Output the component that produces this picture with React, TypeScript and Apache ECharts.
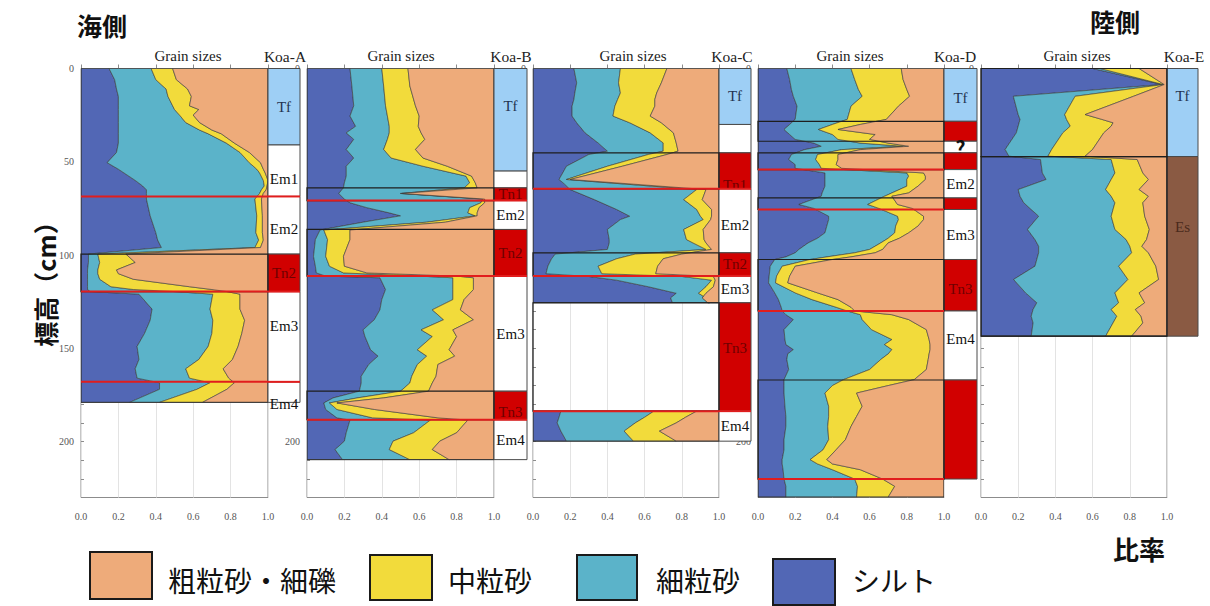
import React, { useEffect, useRef } from "react";
import * as echarts from "echarts";

// ---------- categories ----------
const layerNames = ["シルト", "細粒砂", "中粒砂", "粗粒砂・細礫"];
const layerColors = ["#5267b5", "#5bb3c9", "#f2db3b", "#eeab7a"];
const xTicks = [0, 0.2, 0.4, 0.6, 0.8, 1.0];
// depth tick labels that are left uncovered in each panel
const depthTicksShown = [[0, 50, 100, 150, 200], [0, 200], [0], [0, 200], [0]];

// cumulative grain-size edges (silt | silt+fine | silt+fine+medium), coarse fills to 1.0
// ---------- Koa-A ----------
const A_depth = [0, 6, 11, 15, 20, 22, 25, 29, 33, 35, 40, 45, 50.5, 54, 56, 60, 63, 65, 67, 70, 79, 88, 92, 96, 99.5, 104, 108, 110, 113, 117, 118.5, 119.6, 121, 129, 135, 142, 149, 156, 161, 166, 168.5, 172, 179];
const A_silt = [0.15, 0.18, 0.19, 0.2, 0.2, 0.2, 0.2, 0.2, 0.2, 0.2, 0.2, 0.19, 0.14, 0.2, 0.23, 0.29, 0.33, 0.35, 0.35, 0.35, 0.37, 0.4, 0.41, 0.43, 0.04, 0.04, 0.035, 0.035, 0.035, 0.035, 0.035, 0.05, 0.31, 0.38, 0.37, 0.34, 0.3, 0.31, 0.29, 0.3, 0.42, 0.42, 0.26];
const A_fine = [0.375, 0.4, 0.455, 0.465, 0.49, 0.5, 0.527, 0.56, 0.634, 0.68, 0.777, 0.85, 0.9, 0.94, 0.955, 0.975, 0.98, 0.965, 0.955, 0.93, 0.94, 0.935, 0.95, 0.93, 0.09, 0.1, 0.09, 0.09, 0.1, 0.16, 0.28, 0.5, 0.705, 0.69, 0.705, 0.7, 0.68, 0.63, 0.56, 0.58, 0.69, 0.62, 0.42];
const A_medium = [0.49, 0.51, 0.57, 0.59, 0.58, 0.63, 0.6, 0.634, 0.7, 0.75, 0.82, 0.9, 0.96, 0.975, 0.985, 1.0, 0.995, 0.99, 0.975, 0.965, 0.97, 0.97, 0.975, 0.96, 0.24, 0.29, 0.19, 0.2, 0.28, 0.58, 0.7, 0.78, 0.85, 0.85, 0.875, 0.86, 0.84, 0.81, 0.76, 0.79, 0.82, 0.78, 0.65];
const A_units = [[0, 41, "Tf", "tf"], [41, 68.6, "Em1", "em", 59], [68.6, 99.5, "Em2", "em", 86], [99.5, 119.6, "Tn2", "tn"], [119.6, 168, "Em3", "em", 138], [168, 179, "Em4", "em", 180]];
const A_redLines = [68.6, 119.6, 168];
const A_boxes = [[99.5, 119.6]];

// ---------- Koa-B ----------
const B_depth = [0, 9.4, 20, 25.5, 31, 34.5, 38, 43.4, 48, 52.4, 57.7, 61.3, 64, 67, 70, 72, 74.6, 77.4, 79, 82.4, 86.6, 91.7, 100.7, 106, 109.6, 111.3, 112.2, 118.5, 123.9, 129.4, 134.7, 140.1, 143.7, 150.8, 154.2, 158.7, 165, 168.6, 173, 176.6, 179.3, 182.8, 187.3, 188.5, 195.3, 199.8, 204.3, 209.7];
const B_silt = [0.23, 0.24, 0.25, 0.23, 0.26, 0.21, 0.25, 0.21, 0.25, 0.21, 0.21, 0.2, 0.195, 0.17, 0.2, 0.23, 0.32, 0.44, 0.5, 0.3, 0.07, 0.045, 0.035, 0.045, 0.05, 0.1, 0.39, 0.42, 0.4, 0.39, 0.36, 0.3, 0.31, 0.34, 0.38, 0.33, 0.29, 0.29, 0.28, 0.14, 0.09, 0.1, 0.16, 0.23, 0.21, 0.2, 0.15, 0.19];
const B_fine = [0.4, 0.41, 0.42, 0.43, 0.44, 0.44, 0.43, 0.41, 0.45, 0.62, 0.85, 0.87, 0.84, 0.5, 0.94, 0.93, 0.87, 0.86, 0.9, 0.64, 0.09, 0.11, 0.1, 0.12, 0.195, 0.6, 0.78, 0.78, 0.78, 0.67, 0.73, 0.61, 0.67, 0.59, 0.64, 0.59, 0.56, 0.55, 0.5, 0.27, 0.12, 0.16, 0.35, 0.66, 0.57, 0.46, 0.44, 0.55];
const B_medium = [0.54, 0.55, 0.58, 0.6, 0.595, 0.61, 0.63, 0.58, 0.62, 0.75, 0.88, 0.9, 0.91, 0.51, 0.95, 0.95, 0.92, 0.91, 0.91, 0.74, 0.23, 0.23, 0.195, 0.2, 0.32, 0.8, 0.89, 0.89, 0.84, 0.82, 0.89, 0.78, 0.8, 0.76, 0.79, 0.7, 0.69, 0.67, 0.65, 0.41, 0.16, 0.36, 0.7, 0.86, 0.8, 0.71, 0.67, 0.76];
const B_units = [[0, 55, "Tf", "tf", 20], [55, 64, "", "em"], [64, 70.8, "Tn1", "tn"], [70.8, 86.3, "Em2", "em"], [86.3, 111.3, "Tn2", "tn"], [111.3, 173, "Em3", "em"], [173, 188.3, "Tn3", "tn", 184], [188.3, 209.7, "Em4", "em"]];
const B_redLines = [70.8, 111.3, 188.3];
const B_boxes = [[64, 70.8], [86.3, 111.3], [173, 188.3]];

// ---------- Koa-C (two measured intervals) ----------
const C1_depth = [0, 7.7, 13.1, 16.6, 20.2, 25.5, 29.1, 34.5, 39.9, 44.3, 46.1, 52.4, 59.5, 62, 64.9, 70.3, 75.6, 79.2, 81, 86.3, 91.7, 93.5, 97, 99.5, 102, 106, 110, 111.5, 113.5, 117, 120.5, 123, 125.6];
const C1_silt = [0.22, 0.235, 0.225, 0.22, 0.21, 0.21, 0.235, 0.28, 0.35, 0.4, 0.3, 0.18, 0.14, 0.17, 0.2, 0.33, 0.45, 0.52, 0.47, 0.4, 0.41, 0.41, 0.4, 0.12, 0.1, 0.08, 0.07, 0.3, 0.45, 0.62, 0.77, 0.74, 0.75];
const C1_fine = [0.47, 0.46, 0.47, 0.455, 0.44, 0.43, 0.52, 0.63, 0.7, 0.7, 0.62, 0.4, 0.18, 0.5, 0.88, 0.81, 0.88, 0.9, 0.915, 0.81, 0.825, 0.86, 0.93, 0.55, 0.45, 0.35, 0.37, 0.8, 0.96, 0.93, 0.89, 0.93, 0.95];
const C1_medium = [0.72, 0.69, 0.665, 0.655, 0.655, 0.63, 0.69, 0.755, 0.77, 0.78, 0.72, 0.48, 0.2, 0.54, 0.93, 0.91, 0.96, 0.96, 0.955, 0.915, 0.92, 0.93, 0.96, 0.8, 0.7, 0.67, 0.66, 0.97, 0.98, 0.97, 0.93, 0.91, 0.94];
const C2_depth = [183.7, 187, 190, 194.4, 199.8];
const C2_silt = [0.15, 0.14, 0.13, 0.15, 0.18];
const C2_fine = [0.65, 0.6, 0.55, 0.49, 0.54];
const C2_medium = [0.88, 0.82, 0.77, 0.68, 0.77];
const C_units = [[0, 30, "Tf", "tf"], [30, 45.2, "", "em"], [45.2, 64.5, "Tn1", "tn", 62.5], [64.5, 98.8, "Em2", "em", 84], [98.8, 111.2, "Tn2", "tn"], [111.2, 125.6, "Em3", "em"], [125.6, 183.7, "Tn3", "tn", 150], [183.7, 199.8, "Em4", "em"]];
const C_redLines = [64.5, 111.2, 183.7];
const C_boxes = [[45.2, 64.5], [98.8, 111.2], [125.6, 183.7]];

// ---------- Koa-D ----------
const D_depth = [0, 5.9, 11.3, 14.9, 20.2, 27.3, 30, 32.7, 35.4, 38, 40, 41.7, 43.5, 46.1, 48.8, 51.5, 53.5, 56, 57.7, 59.5, 63.1, 66.7, 68.5, 72.9, 75, 79.2, 81, 84.5, 88.1, 91, 93.5, 97, 98.8, 101, 102.4, 106, 111.3, 114.9, 120.3, 123.9, 128, 130, 132, 134.6, 140, 145.3, 148, 150.7, 153, 156, 161.4, 166.8, 170, 174, 181.1, 186.5, 191.9, 199, 204.4, 209.7, 212, 215.1, 220.1, 224, 229.8];
const D_silt = [0.155, 0.17, 0.18, 0.19, 0.21, 0.2, 0.17, 0.14, 0.17, 0.2, 0.3, 0.34, 0.25, 0.18, 0.165, 0.2, 0.2, 0.36, 0.36, 0.36, 0.36, 0.345, 0.34, 0.22, 0.3, 0.38, 0.38, 0.37, 0.36, 0.32, 0.27, 0.22, 0.2, 0.15, 0.09, 0.066, 0.06, 0.057, 0.09, 0.11, 0.125, 0.13, 0.15, 0.19, 0.14, 0.145, 0.15, 0.19, 0.16, 0.155, 0.165, 0.14, 0.14, 0.14, 0.145, 0.15, 0.15, 0.14, 0.14, 0.13, 0.13, 0.135, 0.14, 0.15, 0.15];
const D_fine = [0.5, 0.52, 0.54, 0.56, 0.5, 0.48, 0.4, 0.325, 0.4, 0.43, 0.55, 0.78, 0.45, 0.32, 0.31, 0.33, 0.34, 0.8, 0.81, 0.8, 0.8, 0.72, 0.68, 0.59, 0.65, 0.75, 0.755, 0.74, 0.735, 0.7, 0.66, 0.6, 0.52, 0.37, 0.28, 0.13, 0.1, 0.094, 0.2, 0.29, 0.42, 0.48, 0.55, 0.56, 0.61, 0.72, 0.68, 0.72, 0.7, 0.66, 0.6, 0.46, 0.4, 0.36, 0.38, 0.38, 0.375, 0.38, 0.35, 0.28, 0.32, 0.4, 0.52, 0.535, 0.53];
const D_medium = [0.77, 0.78, 0.8, 0.815, 0.755, 0.69, 0.55, 0.43, 0.63, 0.6, 0.7, 0.81, 0.55, 0.43, 0.43, 0.42, 0.45, 0.89, 0.9, 0.9, 0.86, 0.81, 0.72, 0.75, 0.83, 0.89, 0.89, 0.86, 0.81, 0.76, 0.7, 0.67, 0.63, 0.5, 0.4, 0.2, 0.17, 0.16, 0.32, 0.43, 0.5, 0.52, 0.72, 0.81, 0.905, 0.92, 0.925, 0.925, 0.92, 0.915, 0.905, 0.84, 0.7, 0.53, 0.56, 0.53, 0.5, 0.47, 0.42, 0.37, 0.4, 0.55, 0.67, 0.735, 0.7];
const D_units = [[0, 28.3, "Tf", "tf", 16], [28.3, 39, "", "tn"], [39, 45.2, "?", "q"], [45.2, 54.2, "", "tn"], [54.2, 69.4, "Em2", "em"], [69.4, 75.6, "", "tn"], [75.6, 102.4, "Em3", "em"], [102.4, 130, "Tn3", "tn", 118], [130, 167, "Em4", "em", 145], [167, 220.1, "", "tn"]];
const D_redLines = [54.2, 75.6, 130, 220.1];
const D_boxes = [[28.3, 39], [45.2, 54.2], [69.4, 75.6], [102.4, 130], [167, 220.1]];

// ---------- Koa-E ----------
const E_depth = [0, 8.6, 14.9, 24.7, 27.3, 29.1, 30.9, 34.5, 43.4, 47, 48.8, 56, 59.5, 64.9, 68.5, 72, 79.2, 86.3, 91.7, 95.3, 98.8, 106, 113.1, 120.3, 125.6, 129.2, 132.8, 136.4, 143.5];
const E_silt = [0.6, 0.975, 0.174, 0.2, 0.21, 0.205, 0.2, 0.19, 0.13, 0.15, 0.32, 0.33, 0.35, 0.2, 0.21, 0.23, 0.31, 0.25, 0.29, 0.31, 0.31, 0.29, 0.175, 0.24, 0.3, 0.28, 0.27, 0.28, 0.27];
const E_fine = [0.64, 0.98, 0.506, 0.45, 0.46, 0.47, 0.48, 0.44, 0.38, 0.36, 0.7, 0.72, 0.7, 0.67, 0.7, 0.72, 0.7, 0.72, 0.78, 0.8, 0.81, 0.74, 0.79, 0.72, 0.74, 0.7, 0.73, 0.71, 0.67];
const E_medium = [0.85, 0.985, 0.82, 0.56, 0.65, 0.71, 0.7, 0.66, 0.6, 0.56, 0.84, 0.87, 0.9, 0.85, 0.9, 0.87, 0.88, 0.905, 0.89, 0.865, 0.9, 0.94, 0.955, 0.85, 0.88, 0.83, 0.86, 0.87, 0.81];
const E_units = [[0, 47.2, "Tf", "tf", 15], [47.2, 143.5, "Es", "es", 85]];
const E_redLines: number[] = [];
const E_boxes = [[0, 47.2], [47.2, 143.5]];

const panelNames = ["Koa-A", "Koa-B", "Koa-C", "Koa-D", "Koa-E"];

// ---------- styles / layout (not data) ----------
const unitFill: Record<string, string> = { tf: "#9ecff5", em: "#ffffff", tn: "#d10000", es: "#8a5a43", q: "#ffffff" };
const unitText: Record<string, string> = { tf: "#23334f", em: "#111111", tn: "#6e0000", es: "#4a2a1c", q: "#111111" };
const TOP = 68.5;
const HEIGHT = 429;
const layout = [
  { left: 81, unitLeft: 268, unitRight: 300, titleX: 188, koaX: 285, redUnit: true },
  { left: 307, unitLeft: 494, unitRight: 527, titleX: 401, koaX: 511, redUnit: true },
  { left: 533, unitLeft: 719, unitRight: 751, titleX: 633, koaX: 732, redUnit: true },
  { left: 758, unitLeft: 944, unitRight: 977, titleX: 850, koaX: 955, redUnit: false },
  { left: 981, unitLeft: 1167, unitRight: 1198, titleX: 1077, koaX: 1184, redUnit: false },
];
const legendLayout = [
  { key: 3, rx: 90, ry: 552, rw: 62, rh: 47, tx: 168 },
  { key: 2, rx: 370, ry: 555, rw: 62, rh: 45, tx: 448 },
  { key: 1, rx: 577, ry: 555, rw: 60, rh: 45, tx: 656 },
  { key: 0, rx: 773, ry: 559, rw: 62, rh: 46, tx: 852 },
];
const SERIF = "Liberation Serif";
const CJK = "Noto Sans CJK JP";

type Seg = { depth: number[]; silt: number[]; fine: number[]; medium: number[] };

const panels: { segs: Seg[]; units: any[]; red: number[]; boxes: number[][] }[] = [
  { segs: [{ depth: A_depth, silt: A_silt, fine: A_fine, medium: A_medium }], units: A_units, red: A_redLines, boxes: A_boxes },
  { segs: [{ depth: B_depth, silt: B_silt, fine: B_fine, medium: B_medium }], units: B_units, red: B_redLines, boxes: B_boxes },
  {
    segs: [
      { depth: C1_depth, silt: C1_silt, fine: C1_fine, medium: C1_medium },
      { depth: C2_depth, silt: C2_silt, fine: C2_fine, medium: C2_medium },
    ],
    units: C_units, red: C_redLines, boxes: C_boxes,
  },
  { segs: [{ depth: D_depth, silt: D_silt, fine: D_fine, medium: D_medium }], units: D_units, red: D_redLines, boxes: D_boxes },
  { segs: [{ depth: E_depth, silt: E_silt, fine: E_fine, medium: E_medium }], units: E_units, red: E_redLines, boxes: E_boxes },
];

function txt(text: string, x: number, y: number, size: number, family: string, opts: any = {}) {
  return {
    type: "text",
    x,
    y,
    rotation: opts.rotation || 0,
    silent: true,
    style: {
      text,
      fontSize: size,
      fontFamily: family,
      fontWeight: opts.bold ? "bold" : "normal",
      fill: opts.color || "#111",
      align: opts.align || "left",
      textAlign: opts.align || "left",
      verticalAlign: "middle",
      textVerticalAlign: "middle",
    },
  };
}

function buildOption() {
  const grid: any[] = [];
  const xAxis: any[] = [];
  const yAxis: any[] = [];
  const series: any[] = [];

  panels.forEach((p, i) => {
    const L = layout[i];
    const gPlot = i * 2;
    const gUnit = i * 2 + 1;
    const shown = depthTicksShown[i];
    grid.push({ left: L.left, top: TOP, width: L.unitLeft - L.left, height: HEIGHT, show: true, borderColor: "#8c8c8c", borderWidth: 1, backgroundColor: "transparent" });
    grid.push({ left: L.unitLeft, top: TOP, width: L.unitRight - L.unitLeft, height: HEIGHT, show: false });
    xAxis.push({
      gridIndex: gPlot, type: "value", min: 0, max: 1, interval: 0.2, position: "bottom",
      axisLine: { show: false },
      axisTick: { show: true, inside: true, length: 4, lineStyle: { color: "#8c8c8c" } },
      axisLabel: { formatter: (v: number) => (xTicks.some((t) => Math.abs(t - v) < 1e-6) ? v.toFixed(1) : ""), fontSize: 10, fontFamily: SERIF, color: "#555", margin: 14 },
      splitLine: { show: true, lineStyle: { color: "#e3e3e3", width: 1 } },
    });
    yAxis.push({
      gridIndex: gPlot, type: "value", min: 0, max: 230, interval: 10, inverse: true,
      axisLine: { show: false },
      axisTick: { show: true, inside: true, length: 3, lineStyle: { color: "#8c8c8c" } },
      axisLabel: { formatter: (v: number) => (shown.indexOf(v) >= 0 ? String(v) : ""), fontSize: 10, fontFamily: SERIF, color: "#555", margin: 7 },
      splitLine: { show: false },
    });
    xAxis.push({ gridIndex: gUnit, type: "value", min: 0, max: 1, show: false });
    yAxis.push({ gridIndex: gUnit, type: "value", min: 0, max: 230, inverse: true, show: false });

    // grain-size layers
    series.push({
      type: "custom", coordinateSystem: "cartesian2d", xAxisIndex: gPlot, yAxisIndex: gPlot, clip: true, z: 2, silent: true,
      data: [[0, 0]],
      renderItem: (params: any, api: any) => {
        const children: any[] = [];
        p.segs.forEach((seg) => {
          const edges: (number[] | null)[] = [null, seg.silt, seg.fine, seg.medium, null];
          for (let k = 0; k < 4; k++) {
            const pts: number[][] = [];
            for (let j = 0; j < seg.depth.length; j++) {
              const x = k === 3 ? 1 : (edges[k + 1] as number[])[j];
              pts.push(api.coord([x, seg.depth[j]]));
            }
            for (let j = seg.depth.length - 1; j >= 0; j--) {
              const x = k === 0 ? 0 : (edges[k] as number[])[j];
              pts.push(api.coord([x, seg.depth[j]]));
            }
            children.push({ type: "polygon", shape: { points: pts }, style: { fill: layerColors[k], stroke: "#3d3d3d", lineWidth: 0.6 } });
          }
          const p0 = api.coord([0, seg.depth[0]]);
          const p1 = api.coord([1, seg.depth[seg.depth.length - 1]]);
          children.push({ type: "rect", shape: { x: p0[0], y: p0[1], width: p1[0] - p0[0], height: p1[1] - p0[1] }, style: { fill: "none", stroke: "#333", lineWidth: 1 } });
        });
        return { type: "group", children };
      },
    });

    // event boxes
    series.push({
      type: "custom", coordinateSystem: "cartesian2d", xAxisIndex: gPlot, yAxisIndex: gPlot, clip: false, z: 4, silent: true,
      data: p.boxes.map((b) => [0.5, b[0], b[1]]),
      renderItem: (params: any, api: any) => {
        const p0 = api.coord([0, api.value(1)]);
        const p1 = api.coord([1, api.value(2)]);
        return { type: "rect", shape: { x: p0[0], y: p0[1], width: p1[0] - p0[0], height: p1[1] - p0[1] }, style: { fill: "none", stroke: "#1e1e1e", lineWidth: 1.2 } };
      },
    });

    // unit column
    series.push({
      type: "custom", coordinateSystem: "cartesian2d", xAxisIndex: gUnit, yAxisIndex: gUnit, clip: false, z: 3, silent: true,
      data: p.units.map((u) => [0.5, (u[0] + u[1]) / 2]),
      renderItem: (params: any, api: any) => {
        const u = p.units[params.dataIndex];
        const p0 = api.coord([0, u[0]]);
        const p1 = api.coord([1, u[1]]);
        const children: any[] = [
          { type: "rect", shape: { x: p0[0], y: p0[1], width: p1[0] - p0[0], height: p1[1] - p0[1] }, style: { fill: unitFill[u[3]], stroke: "#4a4a4a", lineWidth: 1 } },
        ];
        if (u[2]) {
          const ly = u[4] != null ? api.coord([0.5, u[4]])[1] : (p0[1] + p1[1]) / 2;
          const isQ = u[3] === "q";
          children.push({
            type: "text",
            x: (p0[0] + p1[0]) / 2,
            y: ly,
            style: {
              text: u[2],
              fontSize: isQ ? 20 : 15,
              fontFamily: isQ ? CJK : SERIF,
              fontWeight: isQ ? "bold" : "normal",
              fill: unitText[u[3]],
              align: "center", textAlign: "center",
              verticalAlign: "middle", textVerticalAlign: "middle",
            },
          });
        }
        return { type: "group", children };
      },
    });

    // red boundary lines (plot + optionally unit column)
    const redSeries = (xi: number) => ({
      type: "custom", coordinateSystem: "cartesian2d", xAxisIndex: xi, yAxisIndex: xi, clip: false, z: 5, silent: true,
      data: p.red.map((d) => [0.5, d]),
      renderItem: (params: any, api: any) => {
        const a = api.coord([0, api.value(1)]);
        const b = api.coord([1, api.value(1)]);
        return { type: "line", shape: { x1: a[0], y1: a[1], x2: b[0], y2: b[1] }, style: { stroke: "#e11d1d", lineWidth: 2 } };
      },
    });
    series.push(redSeries(gPlot));
    if (L.redUnit) series.push(redSeries(gUnit));
  });

  const graphics: any[] = [];
  layout.forEach((L, i) => {
    graphics.push(txt("Grain sizes", L.titleX, 56, 15, SERIF, { align: "center", color: "#222" }));
    graphics.push(txt(panelNames[i], L.koaX, 56, 15.5, SERIF, { align: "center", color: "#222" }));
  });
  graphics.push(txt("海側", 77, 25, 25, CJK, { bold: true }));
  graphics.push(txt("陸側", 1090, 21, 25, CJK, { bold: true }));
  graphics.push(txt("比率", 1113, 548, 26, CJK, { bold: true }));
  graphics.push(txt("標高（cm）", 45, 278, 25, CJK, { bold: true, align: "center", rotation: Math.PI / 2 }));
  legendLayout.forEach((g) => {
    graphics.push({ type: "rect", silent: true, shape: { x: g.rx, y: g.ry, width: g.rw, height: g.rh }, style: { fill: layerColors[g.key], stroke: "#1a1a1a", lineWidth: 2 } });
    graphics.push(txt(layerNames[g.key], g.tx, 580, 28, CJK, { color: "#111" }));
  });

  return {
    animation: false,
    backgroundColor: "#ffffff",
    grid,
    xAxis,
    yAxis,
    series,
    graphic: { elements: graphics },
  };
}

export default function App() {
  const ref = useRef<HTMLDivElement>(null);
  useEffect(() => {
    if (!ref.current) return;
    const chart = echarts.init(ref.current, undefined, { renderer: "svg" });
    chart.setOption(buildOption() as any);
    return () => chart.dispose();
  }, []);
  return <div ref={ref} style={{ position: "absolute", left: 0, top: 0, width: 1210, height: 606, background: "#fff" }} />;
}
